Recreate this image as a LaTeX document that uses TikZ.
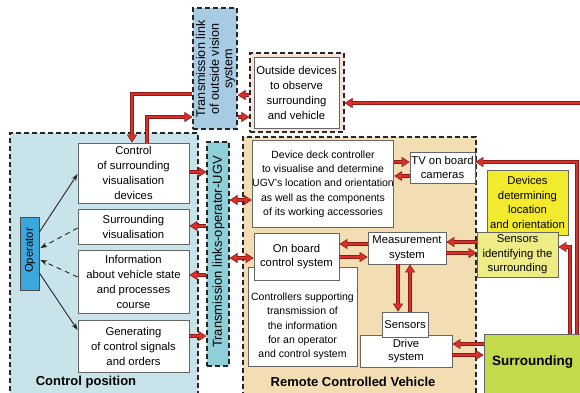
\documentclass[tikz,border=0pt]{standalone}
\usepackage{fontspec}
\setmainfont{Liberation Sans}
\usetikzlibrary{arrows.meta}

\definecolor{cpbg}{HTML}{C8E4EA}
\definecolor{tlbg}{HTML}{A8CBE4}
\definecolor{ugvbg}{HTML}{8FCFD7}
\definecolor{opbg}{HTML}{3BA7DC}
\definecolor{rcvbg}{HTML}{F3DEB4}
\definecolor{oobg}{HTML}{F7E4DB}
\definecolor{ddbg}{HTML}{F2EA2C}
\definecolor{sibg}{HTML}{EEEC86}
\definecolor{srbg}{HTML}{C5DA4A}
\definecolor{dkred}{HTML}{8E1B17}
\definecolor{redf}{HTML}{D9302A}

\begin{document}
\begin{tikzpicture}[x=1pt,y=-1pt,
  region/.style={draw=black!85, line width=1.1pt, dash pattern=on 5pt off 3pt, inner sep=0pt},
  box/.style={draw=black!60, line width=0.8pt, fill=white, inner sep=0pt, align=center,
              font=\fontsize{11.3}{15}\selectfont},
  small/.style={font=\fontsize{10.5}{14.3}\selectfont},
  txt/.style={inner sep=0pt, align=center, font=\fontsize{11.3}{15}\selectfont},
  title/.style={inner sep=0pt, font=\fontsize{13}{15}\selectfont\bfseries},
  tipr/.tip={Triangle[length=8pt,width=10pt,fill=redf,line width=0.6pt]},
  rarr/.style={line width=3.4pt, draw=dkred, -tipr,
               postaction={draw=redf, line width=1.6pt, -, shorten >=6pt}},
  rdbl/.style={line width=3.4pt, draw=dkred, tipr-tipr,
               postaction={draw=redf, line width=1.6pt, -, shorten >=6pt, shorten <=6pt}},
  rline/.style={line width=3.4pt, draw=dkred,
               postaction={draw=redf, line width=1.6pt}},
  barr/.style={draw=black!85, line width=0.9pt, -{Stealth[length=7pt,width=5pt]}},
  bdash/.style={barr, dash pattern=on 5pt off 4pt}]
\useasboundingbox (0,0) rectangle (580,392);
\clip (0,0) rectangle (580,392);

% ---------- regions ----------
\node[region, fill=cpbg, minimum width=188pt, minimum height=267pt] (cp) at (104,266.5) {};
\node[region, fill=rcvbg, minimum width=233pt, minimum height=263pt] (rcv) at (359.5,268.5) {};
\node[region, fill=tlbg, minimum width=44pt, minimum height=121pt] (tl) at (215,68.5) {};
\node[txt, rotate=90, font=\fontsize{12.6}{13.6}\selectfont] (tltxt) at (215.5,69)
  {Transmission link\\of outside vision\\system};
\node[region, fill=ugvbg, minimum width=22pt, minimum height=224pt] (ugv) at (218,254) {};
\node[txt, rotate=90, font=\fontsize{13}{15}\selectfont] (ugvtxt) at (218.5,252)
  {Transmission links-operator-UGV};
\node[region, fill=oobg, minimum width=94pt, minimum height=79pt] (oo) at (297,92.5) {};

\node[title] (cptitle) at (86,382) {Control position};
\node[title] (rcvtitle) at (353,382) {Remote Controlled Vehicle};

% ---------- control position ----------
\node[draw=black!70, line width=0.8pt, fill=opbg, minimum width=19pt, minimum height=73pt] (op) at (29.5,253.5) {};
\node[txt, rotate=90] (optxt) at (30,250.5) {Operator};
\node[box, minimum width=111pt, minimum height=60pt] (c1) at (133.5,173)
  {Control\\of surrounding\\visualisation\\devices};
\node[box, minimum width=111pt, minimum height=35pt] (c2) at (133.5,226.5)
  {Surrounding\\visualisation};
\node[box, minimum width=111pt, minimum height=63pt] (c3) at (133.5,281.5)
  {Information\\about vehicle state\\and processes\\course};
\node[box, minimum width=111pt, minimum height=52pt] (c4) at (133.5,346)
  {Generating\\of control signals\\and orders};

% ---------- outside devices ----------
\node[box, minimum width=85pt, minimum height=71pt] (oi) at (296.5,92.5)
  {Outside devices\\to observe\\surrounding\\and vehicle};

% ---------- vehicle ----------
\node[box, small, minimum width=138pt, minimum height=87pt] (dd) at (323,184)
  {Device deck controller\\to visualise and determine\\UGV's location and orientation\\as well as the components\\of its working accessories};
\node[box, minimum width=65pt, minimum height=31pt] (tv) at (442.5,167.5)
  {TV on board\\[-1pt]cameras};
\node[box, minimum width=109pt, minimum height=99pt] (ct) at (302.5,316.5) {};
\node[txt, small] (cttxt) at (302.5,326.5)
  {Controllers supporting\\transmission of\\the information\\for an operator\\and control system};
\node[box, minimum width=85pt, minimum height=47pt] (ob) at (296.5,256.5)
  {On board\\[-1pt]control system};
\node[box, minimum width=78pt, minimum height=32pt] (ms) at (407,248)
  {Measurement\\system};
\node[box, minimum width=92pt, minimum height=32pt] (dr) at (406,351)
  {Drive\\[-2pt]system};
\node[box, minimum width=46pt, minimum height=25pt] (sn) at (405,324.5) {Sensors};

% ---------- surrounding side ----------
\node[box, fill=ddbg, minimum width=81pt, minimum height=65pt] (dv) at (527.5,202.5)
  {Devices\\[-0.5pt]determining\\[-0.5pt]location\\[-0.5pt]and orientation};
\node[box, fill=sibg, minimum width=81pt, minimum height=45pt] (si) at (517.5,254.5)
  {Sensors\\[-0.5pt]identifying the\\[-0.5pt]surrounding};
\node[box, fill=srbg, minimum width=106pt, minimum height=66pt] (sr) at (537,367) {};
\node[title, font=\fontsize{13.5}{15}\selectfont\bfseries] (srtxt) at (532.5,362) {Surrounding};
\coordinate (farright) at (590,103);

% ---------- operator links ----------
\draw[barr] (op.east |- 0,232) -- (c1.west |- 0,174);
\draw[bdash] (c2.west |- 0,228) -- ([xshift=1pt]op.east |- 0,248);
\draw[bdash] (c3.west |- 0,277) -- ([xshift=1pt]op.east |- 0,260);
\draw[barr] (op.east |- 0,273) -- (c4.west |- 0,330);

% ---------- transmission connectors ----------
\draw[rarr] (tl.west |- 0,94) -| (132,0 |- c1.north);
\draw[rarr] (147,0 |- c1.north) |- (tl.west |- 0,117);
\draw[rarr] (oo.west |- 0,95) -- (tl.east |- 0,95);
\draw[rarr] (tl.east |- 0,117) -- (oo.west |- 0,117);
\draw[rarr] (c1.east |- 0,172) -- (ugv.west |- 0,172);
\draw[rarr] (ugv.west |- 0,226) -- (c2.east |- 0,226);
\draw[rarr] (ugv.west |- 0,275) -- (c3.east |- 0,275);
\draw[rarr] (c4.east |- 0,336) -- (ugv.west |- 0,336);
\draw[rdbl] (ugv.east |- 0,200) -- (dd.west |- 0,200);
\draw[rdbl] (ugv.east |- 0,258) -- (ob.west |- 0,258);

% ---------- vehicle connectors ----------
\draw[rarr] (dd.east |- 0,162) -- (tv.west |- 0,162);
\draw[rarr] (tv.west |- 0,176) -- (dd.east |- 0,176);
\draw[rarr] (ms.west |- 0,244) -- (ob.east |- 0,244);
\draw[rarr] (ob.east |- 0,257) -- (ms.west |- 0,257);
\draw[rarr] (si.west |- 0,242) -- (ms.east |- 0,242);
\draw[rarr] (ms.east |- 0,253) -- (si.west |- 0,253);
\draw[rarr] (398,0 |- ms.south) -- (398,0 |- sn.north);
\draw[rarr] (410,0 |- sn.north) -- (410,0 |- ms.south);
\draw[rarr] (sr.west |- 0,344) -- (dr.east |- 0,344);
\draw[rarr] (dr.east |- 0,355) -- (sr.west |- 0,355);

% ---------- feedback from the surrounding ----------
\draw[rarr] (577,0 |- sr.north) |- (tv.east |- 0,162);
\draw[rarr] (570,0 |- sr.north) |- (si.east |- 0,247);
\draw[rarr] (farright) -- (oo.east |- 0,103);
\end{tikzpicture}
\end{document}
